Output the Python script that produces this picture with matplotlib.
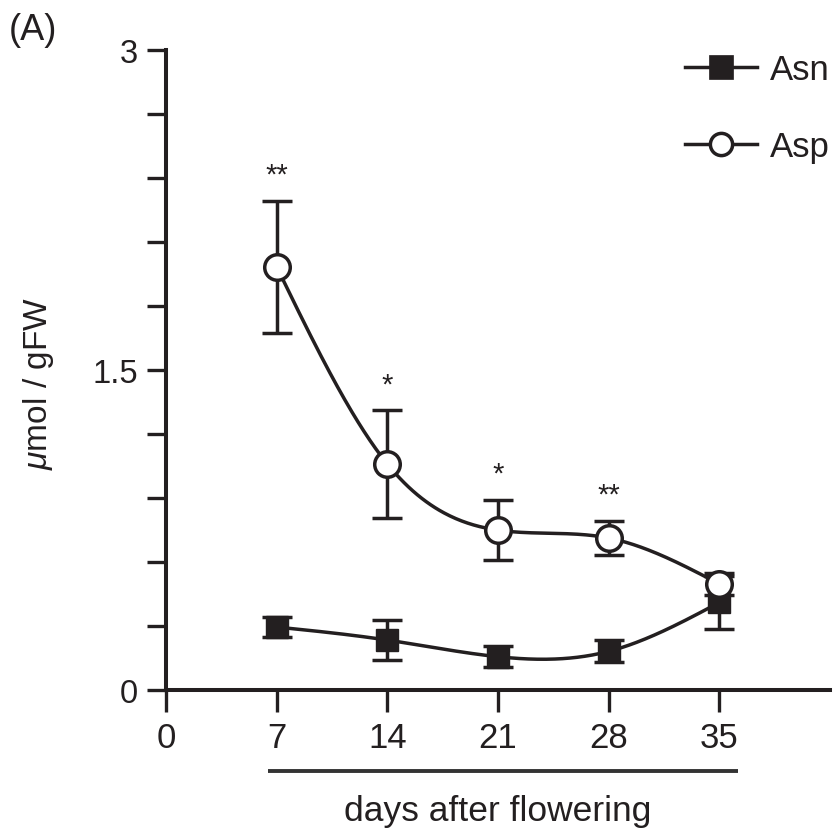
import numpy as np
import matplotlib
matplotlib.use("Agg")
import matplotlib.pyplot as plt
from matplotlib.lines import Line2D
from matplotlib.ticker import MultipleLocator

plt.rcParams['font.family'] = ['Liberation Sans', 'DejaVu Sans']
plt.rcParams['mathtext.fontset'] = 'custom'
plt.rcParams['mathtext.it'] = 'Liberation Sans:italic'
plt.rcParams['mathtext.rm'] = 'Liberation Sans'

# ---- data ----
days = [7, 14, 21, 28, 35]
asn_mean = [0.295, 0.234, 0.156, 0.181, 0.41]
asn_err = [0.045, 0.092, 0.050, 0.052, 0.125]
asp_mean = [1.983, 1.059, 0.749, 0.712, 0.497]
asp_err = [0.31, 0.252, 0.141, 0.080, 0.050]
asp_sig = ["**", "*", "*", "**", ""]
xticks = [0, 7, 14, 21, 28, 35]
yticks = [0, 1.5, 3]
series_labels = ["Asn", "Asp"]

INK = "#231f20"


def natural_spline(x, y, xs):
    x = np.asarray(x, float)
    y = np.asarray(y, float)
    n = len(x)
    h = np.diff(x)
    A = np.zeros((n, n))
    b = np.zeros(n)
    A[0, 0] = 1
    A[-1, -1] = 1
    for i in range(1, n - 1):
        A[i, i - 1] = h[i - 1]
        A[i, i] = 2 * (h[i - 1] + h[i])
        A[i, i + 1] = h[i]
        b[i] = 6 * ((y[i + 1] - y[i]) / h[i] - (y[i] - y[i - 1]) / h[i - 1])
    M = np.linalg.solve(A, b)
    idx = np.clip(np.searchsorted(x, xs) - 1, 0, n - 2)
    x0, x1 = x[idx], x[idx + 1]
    hh = x1 - x0
    t0 = x1 - xs
    t1 = xs - x0
    return (M[idx] * t0 ** 3 / (6 * hh) + M[idx + 1] * t1 ** 3 / (6 * hh)
            + (y[idx] / hh - M[idx] * hh / 6) * t0
            + (y[idx + 1] / hh - M[idx + 1] * hh / 6) * t1)


fig = plt.figure(figsize=(8.35, 8.29), dpi=100)
ax = fig.add_axes([166 / 835, 1 - 691 / 829, (830 - 166) / 835, (691 - 50.7) / 829])

xs = np.linspace(days[0], days[-1], 300)
lw = 2.5

# Asn
ax.plot(xs, natural_spline(days, asn_mean, xs), color=INK, lw=lw, zorder=2)
ax.errorbar(days, asn_mean, yerr=asn_err, fmt='none', ecolor=INK, elinewidth=lw,
            capsize=10.5, capthick=lw, zorder=3)
ax.plot(days, asn_mean, 's', color=INK, markersize=16.5, markeredgewidth=1,
        markeredgecolor=INK, zorder=4)

# Asp
ax.plot(xs, natural_spline(days, asp_mean, xs), color=INK, lw=lw, zorder=5)
ax.errorbar(days, asp_mean, yerr=asp_err, fmt='none', ecolor=INK, elinewidth=lw,
            capsize=10.5, capthick=lw, zorder=6)
ax.plot(days, asp_mean, 'o', color='white', markersize=18.4, markeredgewidth=2.5,
        markeredgecolor=INK, zorder=7)

for d, m, e, s in zip(days, asp_mean, asp_err, asp_sig):
    if s:
        ax.annotate(s, xy=(d, m + e), xytext=(0, 13), textcoords='offset points',
                    ha='center', va='baseline', fontsize=21, color=INK)

ax.set_xlim(0, 42)
ax.set_ylim(0, 3)
ax.set_xticks(xticks)
ax.set_yticks(yticks)
ax.set_yticklabels(["0", "1.5", "3"])
ax.yaxis.set_minor_locator(MultipleLocator(0.3))
for s in ['top', 'right']:
    ax.spines[s].set_visible(False)
for s in ['left', 'bottom']:
    ax.spines[s].set_linewidth(2.9)
    ax.spines[s].set_color(INK)
    ax.spines[s].set_capstyle('projecting')
ax.tick_params(axis='both', which='both', direction='out', width=2.4, color=INK,
               labelcolor=INK)
ax.tick_params(axis='y', which='both', length=14, labelsize=23.5, pad=6)
ax.tick_params(axis='x', which='both', length=16, labelsize=25, pad=6)

ax.set_ylabel(r"$\mathit{\mu}$mol / gFW", fontsize=24, color=INK)
ax.yaxis.set_label_coords(-0.165, 0.48)
ax.set_xlabel("days after flowering", fontsize=25.5, color=INK)
ax.xaxis.set_label_coords(0.5, -0.163)
ax.xaxis.label.set_va('top')

# bracket line below tick labels
ax.plot([6.46, 36.2], [-0.126, -0.126], transform=ax.get_xaxis_transform(),
        color="#333333", lw=2.8, clip_on=False, solid_capstyle='butt')

fig.text(33 / 835, 1 - 30 / 829, "(A)", fontsize=26, color=INK, ha='center', va='center')

handles = [
    Line2D([], [], color=INK, lw=lw, marker='s', markersize=17.5, markerfacecolor=INK,
           markeredgecolor=INK, markeredgewidth=0.5),
    Line2D([], [], color=INK, lw=lw, marker='o', markersize=16, markerfacecolor='white',
           markeredgecolor=INK, markeredgewidth=2.5),
]
fig.legend(handles, series_labels, loc='upper left', bbox_to_anchor=(685 / 835, 1 - 54 / 829),
           bbox_transform=fig.transFigure, frameon=False, borderpad=0, borderaxespad=0,
           handlelength=2.07, handletextpad=0.37, labelspacing=1.27, fontsize=25,
           labelcolor=INK)

fig.savefig("out.png", dpi=100)
